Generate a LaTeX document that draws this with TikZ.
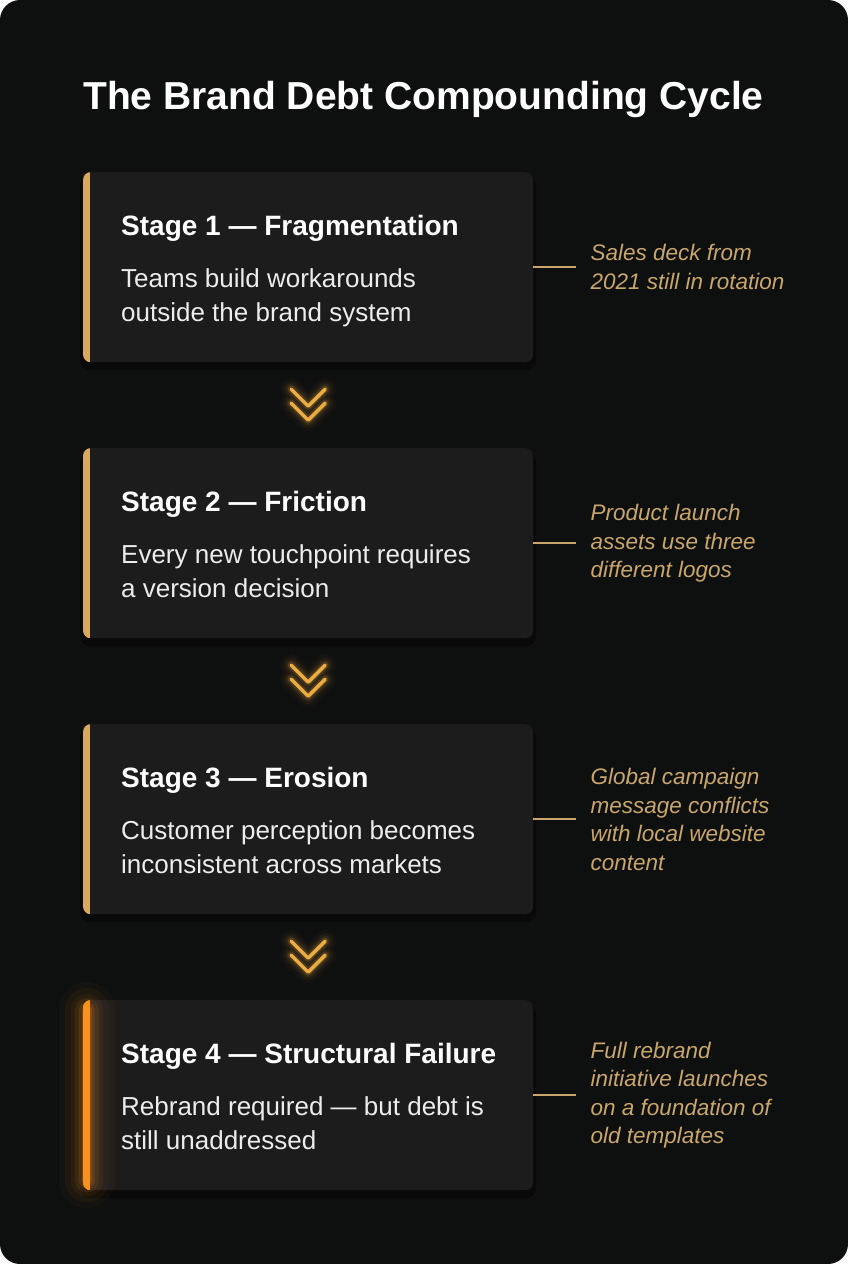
\documentclass[tikz,border=0pt]{standalone}
\usepackage{fontspec}
\setmainfont{Liberation Sans}
\usetikzlibrary{positioning,calc}

\definecolor{bgdark}{RGB}{14,15,15}
\definecolor{cardgray}{RGB}{28,28,29}
\definecolor{goldbar}{RGB}{214,168,96}
\definecolor{notegold}{RGB}{201,166,108}
\definecolor{chevgold}{RGB}{236,172,66}
\definecolor{hotorange}{RGB}{247,146,30}
\definecolor{bodygray}{RGB}{236,236,236}

\tikzset{
  card/.style={fill=cardgray, rounded corners=8pt, minimum width=450pt, minimum height=190pt, anchor=north west, inner sep=0pt},
  stagehead/.style={font=\bfseries\fontsize{28}{34}\selectfont, text=white, anchor=base west, inner sep=0pt},
  stagebody/.style={font=\fontsize{26}{34}\selectfont, text=bodygray, align=left, anchor=base west, inner sep=0pt},
  notetext/.style={font=\itshape\fontsize{22.5}{28.5}\selectfont, text=notegold, align=left, anchor=west, inner xsep=14pt, inner ysep=0pt},
  tick/.style={notegold, line width=1.5pt},
  chev/.style={chevgold, line width=3.5pt, line cap=round, line join=round},
}

\begin{document}
\begin{tikzpicture}[x=1pt,y=-1pt]
  \useasboundingbox (0,0) rectangle (848,1264);
  \fill[bgdark, rounded corners=20pt] (0,0) rectangle (848,1264);

  \node[font=\bfseries\fontsize{39}{44}\selectfont, text=white, anchor=base west, inner sep=0pt] (title) at (83,109) {The Brand Debt Compounding Cycle};

  % the four stages
  \foreach \i/\top/\bar/\head/\body/\note in {
    1/172/goldbar/{Stage 1 — Fragmentation}/{Teams build workarounds\\outside the brand system}/{Sales deck from\\2021 still in rotation},
    2/448/goldbar/{Stage 2 — Friction}/{Every new touchpoint requires\\a version decision}/{Product launch\\assets use three\\different logos},
    3/724/goldbar/{Stage 3 — Erosion}/{Customer perception becomes\\inconsistent across markets}/{Global campaign\\message conflicts\\with local website\\content},
    4/1000/hotorange/{Stage 4 — Structural Failure}/{Rebrand required — but debt is\\still unaddressed}/{Full rebrand\\initiative launches\\on a foundation of\\old templates}}{
    \fill[black, opacity=0.35, rounded corners=10pt] (83-3,\top+4) rectangle (533+3,\top+198);
    \node[card] (s\i) at (83,\top) {};
    \begin{scope}
      \clip[rounded corners=8pt] (s\i.north west) rectangle (s\i.south east);
      \fill[\bar] (s\i.north west) rectangle ([xshift=7pt]s\i.south west);
    \end{scope}
    \node[stagehead] (h\i) at ([shift={(38pt,-63pt)}]s\i.north west) {\head};
    % base of a two-line node is its last line
    \node[stagebody] (b\i) at ([shift={(38pt,-149pt)}]s\i.north west) {\body};
    \node[notetext] (n\i) at ([xshift=43pt]s\i.east) {\note};
    \draw[tick] (s\i.east) -- (n\i.west);
  }

  % glow on the last bar
  \foreach \w/\o in {56/0.03,44/0.045,32/0.06,24/0.09,16/0.13,10/0.2}{
    \draw[hotorange, line width=\w pt, opacity=\o, line cap=round] ([shift={(3.5pt,-10pt)}]s4.north west) -- ([shift={(3.5pt,10pt)}]s4.south west);
  }
  \begin{scope}
    \clip[rounded corners=8pt] (s4.north west) rectangle (s4.south east);
    \fill[hotorange] (s4.north west) rectangle ([xshift=7pt]s4.south west);
  \end{scope}

  % chevrons between stages
  \foreach \i/\j in {1/2,2/3,3/4}{
    \coordinate (c\i) at ($(s\i.south)!0.5!(s\j.north)$);
    \foreach \w/\o in {22/0.03,16/0.05,11/0.09,7/0.16}{
      \draw[chev, line width=\w pt, opacity=\o, shift={(c\i)}] (-17,-16) -- (0,1) -- (17,-16) (-17,-2) -- (0,15) -- (17,-2);
    }
    \draw[chev, shift={(c\i)}] (-17,-16) -- (0,1) -- (17,-16) (-17,-2) -- (0,15) -- (17,-2);
  }
\end{tikzpicture}
\end{document}
